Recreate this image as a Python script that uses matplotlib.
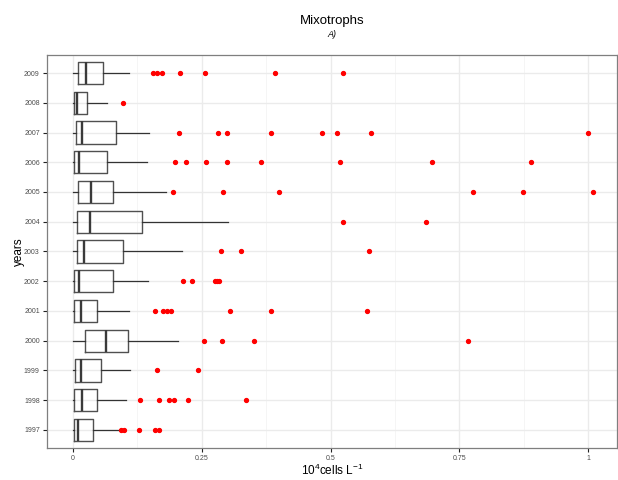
import matplotlib
matplotlib.use("Agg")
import matplotlib.pyplot as plt
from matplotlib.ticker import FixedLocator

plt.rcParams["font.family"] = ["Liberation Sans", "DejaVu Sans"]
plt.rcParams["mathtext.fontset"] = "custom"
plt.rcParams["mathtext.rm"] = "Liberation Sans"
plt.rcParams["mathtext.it"] = "Liberation Sans:italic"

years = ["1997", "1998", "1999", "2000", "2001", "2002", "2003",
         "2004", "2005", "2006", "2007", "2008", "2009"]
whislo = [0.0, 0.0, 0.0, 0.0, 0.0, 0.0, 0.0, 0.0, 0.0, 0.0, 0.0, 0.0, 0.0]
q1 = [0.002, 0.0035, 0.004, 0.025, 0.0035, 0.0035, 0.008, 0.009, 0.011, 0.002, 0.006, 0.002, 0.010]
med = [0.011, 0.018, 0.016, 0.064, 0.016, 0.013, 0.023, 0.034, 0.036, 0.013, 0.018, 0.009, 0.026]
q3 = [0.039, 0.048, 0.055, 0.108, 0.048, 0.078, 0.097, 0.135, 0.078, 0.066, 0.084, 0.029, 0.060]
whishi = [0.090, 0.103, 0.111, 0.205, 0.109, 0.146, 0.213, 0.302, 0.181, 0.144, 0.148, 0.066, 0.109]
outliers = [
    [0.0935, 0.1005, 0.128, 0.159, 0.168],
    [0.131, 0.168, 0.187, 0.196, 0.224, 0.336],
    [0.163, 0.243],
    [0.255, 0.289, 0.351, 0.767],
    [0.159, 0.175, 0.183, 0.191, 0.305, 0.384, 0.571],
    [0.215, 0.232, 0.276, 0.280, 0.284],
    [0.287, 0.326, 0.575],
    [0.525, 0.686],
    [0.194, 0.291, 0.401, 0.776, 0.874, 1.008],
    [0.198, 0.219, 0.258, 0.299, 0.366, 0.518, 0.696, 0.888],
    [0.207, 0.281, 0.300, 0.384, 0.483, 0.513, 0.578, 1.0],
    [0.098],
    [0.156, 0.163, 0.174, 0.209, 0.257, 0.393, 0.524],
]
xticks = [0, 0.25, 0.5, 0.75, 1]
xticklabels = ["0", "0.25", "0.5", "0.75", "1"]

fig = plt.figure(figsize=(6.18, 4.8), dpi=100)
ax = fig.add_axes([0.0756, 0.0673, 0.9234, 0.8177])

stats = []
for i, y in enumerate(years):
    stats.append(dict(label=y, whislo=whislo[i], q1=q1[i], med=med[i],
                      q3=q3[i], whishi=whishi[i], fliers=outliers[i]))

positions = list(range(1, len(years) + 1))
ax.bxp(stats, positions=positions, vert=False, widths=0.75,
       showcaps=False,
       boxprops=dict(color="#505050", linewidth=1.0),
       whiskerprops=dict(color="#333333", linewidth=0.9),
       medianprops=dict(color="#3a3a3a", linewidth=1.7),
       flierprops=dict(marker="o", markerfacecolor="red", markeredgecolor="red",
                       markersize=2.8, linestyle="none"),
       zorder=3)

ax.set_xlim(-0.05, 1.056)
ax.set_ylim(0.4, 13.6)
ax.set_yticks(positions)
ax.set_yticklabels(years, fontsize=5, color="#4d4d4d")
ax.set_xticks(xticks)
ax.set_xticklabels(xticklabels, fontsize=5, color="#4d4d4d")
ax.xaxis.set_minor_locator(FixedLocator([0.125, 0.375, 0.625, 0.875]))
ax.tick_params(axis="both", which="major", length=3, width=0.8, color="#222222", pad=2)
ax.tick_params(axis="x", which="minor", length=0)

ax.grid(True, which="major", color="#ebebeb", linewidth=1.0, zorder=0)
ax.grid(True, which="minor", axis="x", color="#f4f4f4", linewidth=0.6, zorder=0)
ax.set_axisbelow(True)

for s in ax.spines.values():
    s.set_color("#7f7f7f")
    s.set_linewidth(0.9)

ax.set_xlabel(r"10$^{4}$cells L$^{-1}$", fontsize=8.5, labelpad=1)
ax.set_ylabel("years", fontsize=8.5, labelpad=-1)

fig.text(0.537, 0.957, "Mixotrophs", ha="center", va="center", fontsize=9.5)
fig.text(0.537, 0.928, "A)", ha="center", va="center", fontsize=6.5, style="italic")

fig.savefig("out.png", dpi=100)
